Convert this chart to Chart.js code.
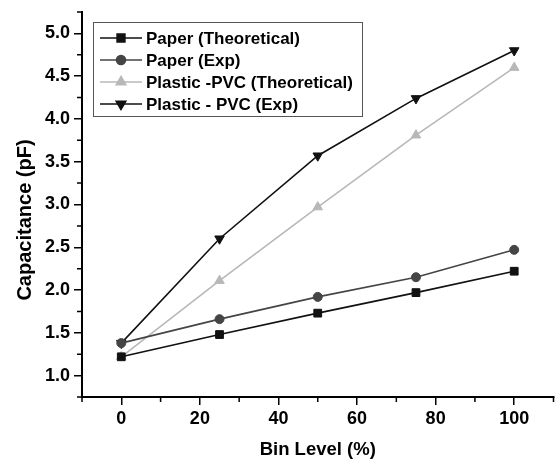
<!DOCTYPE html>
<html>
<head>
<meta charset="utf-8">
<script src="https://cdn.jsdelivr.net/npm/chart.js@4.4.0/dist/chart.umd.min.js"></script>
<style>
  html, body { margin: 0; padding: 0; background: #fff; }
</style>
</head>
<body>
<canvas id="chart" width="560" height="461"></canvas>
<script>
// values
const binLevel = [0, 25, 50, 75, 100];
const paperTheo = [1.22, 1.48, 1.73, 1.97, 2.22];
const paperExp = [1.38, 1.66, 1.92, 2.15, 2.47];
const pvcTheo = [1.22, 2.11, 2.97, 3.81, 4.60];
const pvcExp = [1.38, 2.60, 3.57, 4.24, 4.80];

const seriesNames = ['Paper (Theoretical)', 'Paper (Exp)', 'Plastic -PVC (Theoretical)', 'Plastic - PVC (Exp)'];
const xTicks = [0, 20, 40, 60, 80, 100];
const xMinor = [-10, 10, 30, 50, 70, 90, 110];
const yTicks = [1.0, 1.5, 2.0, 2.5, 3.0, 3.5, 4.0, 4.5, 5.0];
const yMinor = [0.75, 1.25, 1.75, 2.25, 2.75, 3.25, 3.75, 4.25, 4.75, 5.25];

const font = 'Liberation Sans, Arial, sans-serif';

function pts(ys) {
    return binLevel.map((x, i) => ({ x: x, y: ys[i] }));
}

function makeSet(label, ys, color, style, radius, rotation) {
    return {
        label: label,
        data: pts(ys),
        borderColor: color,
        backgroundColor: color,
        borderWidth: 1.6,
        pointStyle: style,
        pointRadius: radius,
        pointRotation: rotation || 0,
        pointBorderWidth: 1,
        tension: 0
    };
}

// short minor ticks, not available natively in Chart.js
const minorTicks = {
    id: 'minorTicks',
    afterDraw(chart) {
        const ctx = chart.ctx;
        const x = chart.scales.x, y = chart.scales.y;
        ctx.save();
        ctx.strokeStyle = '#000';
        ctx.lineWidth = 1.5;
        ctx.beginPath();
        xMinor.forEach(v => {
            const px = x.getPixelForValue(v);
            ctx.moveTo(px, x.top);
            ctx.lineTo(px, x.top + 5);
        });
        yMinor.forEach(v => {
            const py = y.getPixelForValue(v);
            ctx.moveTo(y.right, py);
            ctx.lineTo(y.right - 5, py);
        });
        ctx.stroke();
        ctx.restore();
    }
};

// y title sits a bit below the axis middle in the original
const yTitle = {
    id: 'yTitle',
    afterDraw(chart) {
        const ctx = chart.ctx;
        ctx.save();
        ctx.translate(25, 220);
        ctx.rotate(-Math.PI / 2);
        ctx.fillStyle = '#000';
        ctx.font = 'bold 20px ' + font;
        ctx.textAlign = 'center';
        ctx.textBaseline = 'middle';
        ctx.fillText('Capacitance (pF)', 0, 0);
        ctx.restore();
    }
};

// boxed legend inside the plot, top left
const boxLegend = {
    id: 'boxLegend',
    afterDraw(chart) {
        const ctx = chart.ctx;
        const left = 93, top = 22, w = 269, h = 94, row = 22;
        ctx.save();
        ctx.fillStyle = '#fff';
        ctx.fillRect(left, top, w, h);
        ctx.strokeStyle = '#555';
        ctx.lineWidth = 1;
        ctx.strokeRect(left + 0.5, top + 0.5, w, h);
        chart.data.datasets.forEach((ds, i) => {
            const cy = 38 + i * row;
            ctx.strokeStyle = ds.borderColor;
            ctx.lineWidth = 1.6;
            ctx.beginPath();
            ctx.moveTo(100, cy);
            ctx.lineTo(142, cy);
            ctx.stroke();
            ctx.fillStyle = ds.backgroundColor;
            Chart.helpers.drawPoint(ctx, {
                pointStyle: ds.pointStyle,
                radius: ds.pointRadius,
                rotation: ds.pointRotation,
                borderWidth: 1
            }, 121, cy);
            ctx.fillStyle = '#000';
            ctx.font = 'bold 17px ' + font;
            ctx.textBaseline = 'middle';
            ctx.textAlign = 'left';
            ctx.fillText(ds.label, 146, cy + 1);
        });
        ctx.restore();
    }
};

new Chart(document.getElementById('chart'), {
    type: 'line',
    data: {
        datasets: [
            makeSet(seriesNames[0], paperTheo, '#111', 'rect', 5.5),
            makeSet(seriesNames[1], paperExp, '#454545', 'circle', 4.5),
            makeSet(seriesNames[2], pvcTheo, '#b8b8b8', 'triangle', 5.5),
            makeSet(seriesNames[3], pvcExp, '#111', 'triangle', 5.5, 180)
        ]
    },
    options: {
        responsive: false,
        animation: false,
        layout: { padding: { top: 12, right: 5, left: 0, bottom: 0 } },
        plugins: {
            legend: { display: false },
            tooltip: { enabled: false }
        },
        scales: {
            x: {
                type: 'linear',
                min: -10,
                max: 110,
                afterBuildTicks: s => { s.ticks = xTicks.map(v => ({ value: v })); },
                afterFit: s => { s.height = 64; s.paddingLeft = 0; s.paddingRight = 0; },
                border: { display: true, color: '#000', width: 2 },
                grid: { drawOnChartArea: false, drawTicks: true, tickLength: 8, color: '#000', lineWidth: 1.5 },
                ticks: { color: '#000', padding: 3, font: { family: font, size: 18, weight: 'bold' } },
                title: {
                    display: true,
                    text: 'Bin Level (%)',
                    color: '#000',
                    padding: { top: 0, bottom: 0 },
                    font: { family: font, size: 18.5, weight: 'bold' }
                }
            },
            y: {
                type: 'linear',
                min: 0.75,
                max: 5.25,
                afterBuildTicks: s => { s.ticks = yTicks.map(v => ({ value: v })); },
                afterFit: s => { s.width = 82; s.paddingTop = 0; s.paddingBottom = 0; },
                border: { display: true, color: '#000', width: 2 },
                grid: { drawOnChartArea: false, drawTicks: true, tickLength: 8, color: '#000', lineWidth: 1.5 },
                ticks: {
                    color: '#000',
                    padding: 4,
                    font: { family: font, size: 18, weight: 'bold' },
                    callback: v => v.toFixed(1)
                },
                title: { display: false }
            }
        }
    },
    plugins: [minorTicks, yTitle, boxLegend]
});
</script>
</body>
</html>
